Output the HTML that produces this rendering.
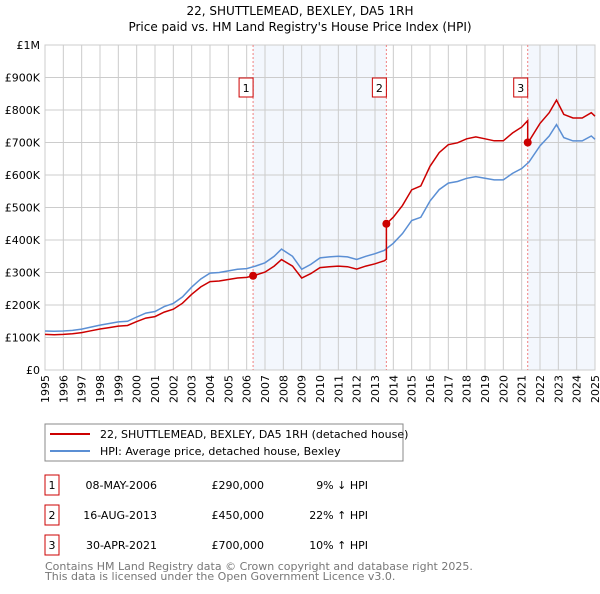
<!DOCTYPE html>
<html><head><meta charset="utf-8"><style>
body{margin:0;background:#fff;font-family:"DejaVu Sans","Liberation Sans",sans-serif;}
svg text{font-family:"DejaVu Sans","Liberation Sans",sans-serif;}
</style></head><body>
<svg id="c" width="600" height="590">
<text x="300" y="15" text-anchor="middle" font-size="12">22, SHUTTLEMEAD, BEXLEY, DA5 1RH</text>
<text x="300" y="31" text-anchor="middle" font-size="12">Price paid vs. HM Land Registry's House Price Index (HPI)</text>
<g id="plot"></g>
<rect x="45" y="424" width="358" height="37" fill="#fff" stroke="#888"/>
<line x1="50" y1="434" x2="90" y2="434" stroke="#cc0000" stroke-width="2"/>
<text x="100" y="438" font-size="11">22, SHUTTLEMEAD, BEXLEY, DA5 1RH (detached house)</text>
<line x1="50" y1="451" x2="90" y2="451" stroke="#5b8fd4" stroke-width="2"/>
<text x="100" y="455" font-size="11">HPI: Average price, detached house, Bexley</text>
<g id="table" font-size="11"></g>
<text x="45" y="570" font-size="11" fill="#777">Contains HM Land Registry data © Crown copyright and database right 2025.</text>
<text x="45" y="580" font-size="11" fill="#777">This data is licensed under the Open Government Licence v3.0.</text>
</svg>
<script>
const hpiYears=[1995,1995.5,1996,1996.5,1997,1997.5,1998,1998.5,1999,1999.5,2000,2000.5,2001,2001.5,2002,2002.5,2003,2003.5,2004,2004.5,2005,2005.5,2006,2006.5,2007,2007.5,2007.9,2008.5,2009,2009.5,2010,2010.5,2011,2011.5,2012,2012.5,2013,2013.5,2014,2014.5,2015,2015.5,2016,2016.5,2017,2017.5,2018,2018.5,2019,2019.5,2020,2020.5,2021,2021.4,2022,2022.5,2022.9,2023.3,2023.8,2024.3,2024.8,2025];
const hpiValues=[120,119,120,122,126,132,138,143,148,150,163,175,180,195,205,225,255,280,298,300,305,310,312,320,330,350,372,350,310,325,345,348,350,348,340,350,358,368,390,420,460,470,520,555,575,580,590,595,590,585,585,605,620,640,690,720,755,715,705,705,720,710];
const saleYears=[2006.35,2013.62,2021.33];
const salePrices=[290,450,700];
const saleLabels=["1","2","3"];
const saleDates=["08-MAY-2006","16-AUG-2013","30-APR-2021"];
const salePriceText=["£290,000","£450,000","£700,000"];
const saleHpiText=["9% ↓ HPI","22% ↑ HPI","10% ↑ HPI"];
const yTicks=[0,100,200,300,400,500,600,700,800,900,1000];
const yTickLabels=["£0","£100K","£200K","£300K","£400K","£500K","£600K","£700K","£800K","£900K","£1M"];
const xTicks=[1995,1996,1997,1998,1999,2000,2001,2002,2003,2004,2005,2006,2007,2008,2009,2010,2011,2012,2013,2014,2015,2016,2017,2018,2019,2020,2021,2022,2023,2024,2025];

const L=45,R=595,T=45,B=370;
const xs=v=>L+(v-1995)/30*(R-L);
const ys=v=>B-v/1000*(B-T);
const NS="http://www.w3.org/2000/svg";
const g=document.getElementById('plot');
function mk(tag,attrs,parent){const e=document.createElementNS(NS,tag);for(const k in attrs)e.setAttribute(k,attrs[k]);(parent||g).appendChild(e);return e;}
function hpiAt(y){for(let i=0;i<hpiYears.length-1;i++){if(y<=hpiYears[i+1]){const t=(y-hpiYears[i])/(hpiYears[i+1]-hpiYears[i]);return hpiValues[i]+t*(hpiValues[i+1]-hpiValues[i]);}}return hpiValues[hpiValues.length-1];}

// shaded ownership regions
let r1=mk('rect',{x:xs(saleYears[0]),y:T,width:xs(saleYears[1])-xs(saleYears[0]),height:B-T,fill:'#eef3fc',opacity:0.7});


let r2=mk('rect',{x:xs(saleYears[2]),y:T,width:R-xs(saleYears[2]),height:B-T,fill:'#eef3fc',opacity:0.7});



yTicks.forEach((v,i)=>{
  const l=mk('line',{x1:L,x2:R,y1:ys(v),y2:ys(v),stroke:'#ccc'});
  
  
  const t=mk('text',{x:L-5,y:ys(v)+4,'text-anchor':'end','font-size':11});
  
  
  t.textContent=yTickLabels[i];
});
xTicks.forEach(v=>{
  const l=mk('line',{x1:xs(v),x2:xs(v),y1:T,y2:B,stroke:'#ccc'});
  
  
  const t=mk('text',{x:xs(v),y:B+5,'font-size':11,'text-anchor':'end',transform:`rotate(-90 ${xs(v)} ${B+5})`,dy:'4'});
  
  
  t.textContent=v;
});
const frame=mk('rect',{x:L,y:T,width:R-L,height:B-T,fill:'none',stroke:'#ccc'});



saleYears.forEach((s,i)=>{
  const l=mk('line',{x1:xs(s),x2:xs(s),y1:T,y2:B,stroke:'#f08080','stroke-dasharray':'2,2'});
  
  
});

// HPI line
let d=hpiYears.map((y,i)=>(i?'L':'M')+xs(y).toFixed(1)+','+ys(hpiValues[i]).toFixed(1)).join('');
const hl=mk('path',{d:d,fill:'none',stroke:'#5b8fd4','stroke-width':1.5});



// property line: HPI scaled to each sale
const pts=[];
const grid=[...new Set([...hpiYears,...saleYears])].sort((a,b)=>a-b);
grid.forEach(y=>{
  let k=0;for(let i=0;i<saleYears.length;i++) if(y>=saleYears[i]) k=i;
  const f=salePrices[k]/hpiAt(saleYears[k]);
  if(saleYears.includes(y)&&k>0){const fp=salePrices[k-1]/hpiAt(saleYears[k-1]);pts.push([y,hpiAt(y)*fp]);}
  pts.push([y,hpiAt(y)*f]);
});
d=pts.map((p,i)=>(i?'L':'M')+xs(p[0]).toFixed(1)+','+ys(p[1]).toFixed(1)).join('');
const pl=mk('path',{d:d,fill:'none',stroke:'#cc0000','stroke-width':1.5});



saleYears.forEach((s,i)=>{
  const c=mk('circle',{cx:xs(s),cy:ys(salePrices[i]),r:4,fill:'#cc0000'});
  
  
  const b=mk('rect',{x:xs(s)-14,y:78,width:14,height:19,fill:'#fff',stroke:'#cc0000'});
  
  
  const t=mk('text',{x:xs(s)-7,y:92,'text-anchor':'middle','font-size':11});
  
  
  t.textContent=saleLabels[i];
});

const tb=document.getElementById('table');
saleYears.forEach((s,i)=>{
  const y0=475+i*30;
  const b=mk('rect',{x:45,y:y0,width:14,height:20,fill:'#fff',stroke:'#cc0000'},tb);
  
  
  const cells=[[52,'middle',saleLabels[i]],[157,'end',saleDates[i]],[264,'end',salePriceText[i]],[368,'end',saleHpiText[i]]];
  cells.forEach(c=>{
    const t=mk('text',{x:c[0],y:y0+14,'text-anchor':c[1]},tb);
    
    
    t.textContent=c[2];
  });
});
</script>
</body></html>
